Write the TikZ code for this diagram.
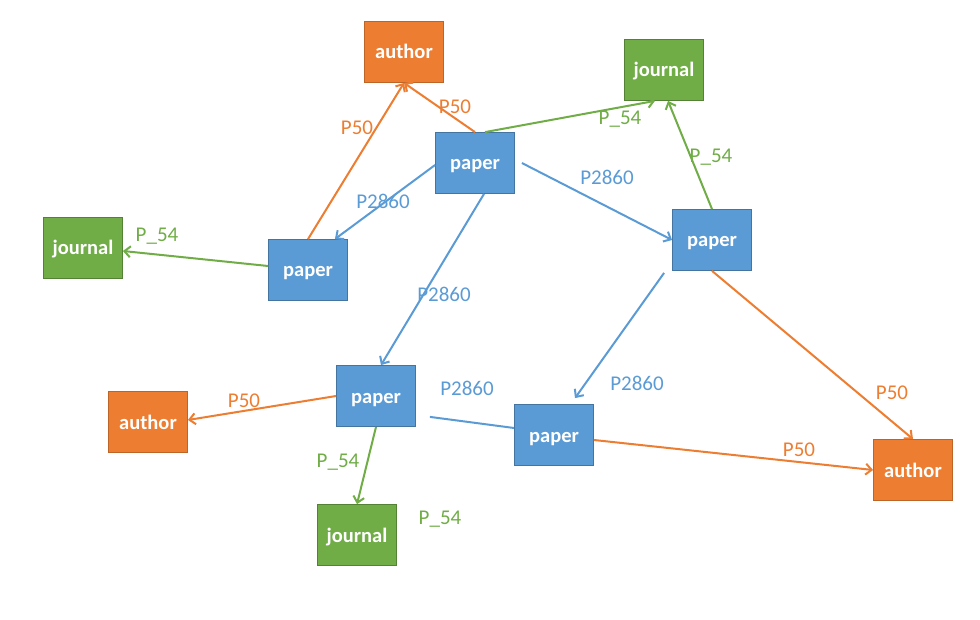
\documentclass[tikz,border=0pt]{standalone}
\usepackage{fontspec}
\setmainfont{Carlito}
\usetikzlibrary{arrows.meta}
\definecolor{paperblue}{HTML}{5B9BD5}
\definecolor{authororange}{HTML}{ED7D31}
\definecolor{journalgreen}{HTML}{70AD47}
\begin{document}
\begin{tikzpicture}
        [
          x=1pt, y=-1pt,
          box/.style={minimum width=79pt, minimum height=61pt, inner sep=0pt,
            text height=14pt, text depth=0pt,
            text=white, font=\fontsize{20.5}{22}\selectfont\bfseries, line width=0.8pt},
          paperbox/.style={box, fill=paperblue, draw=paperblue!75!black},
          authorbox/.style={box, fill=authororange, draw=authororange!80!black},
          journalbox/.style={box, fill=journalgreen, draw=journalgreen!75!black},
          rel/.style={line width=2pt, -{Straight Barb[length=6pt,width=11pt]}},
          lab/.style={font=\fontsize{21}{22}\selectfont, inner sep=0pt}
        ]
        \useasboundingbox (0,0) rectangle (980,620);
        % entities
        \node [paperbox] (paperC) at (475,163) {paper};
        \node [paperbox] (paperL) at (308,270) {paper};
        \node [paperbox] (paperR) at (712,240) {paper};
        \node [paperbox] (paperM) at (376,396) {paper};
        \node [paperbox] (paperB) at (554,435) {paper};
        \node [authorbox] (authorT) at (404,52) {author};
        \node [authorbox] (authorL) at (148,422) {author};
        \node [authorbox] (authorR) at (913,470) {author};
        \node [journalbox] (journalT) at (664,70) {journal};
        \node [journalbox] (journalL) at (83,248) {journal};
        \node [journalbox] (journalB) at (357,535) {journal};
        % P50 edges
        \draw [rel, authororange] (paperC.north) -- (authorT.south);
        \draw [rel, authororange] (paperL.north) -- (authorT.south);
        \draw [rel, authororange] (paperR.south) -- (authorR.north);
        \draw [rel, authororange] (paperM.west) -- ([yshift=2]authorL.east);
        \draw [rel, authororange] ([yshift=-5]paperB.east) -- (authorR.west);
        % P_54 edges
        \draw [rel, journalgreen] ([xshift=10]paperC.north) -- ([xshift=-9]journalT.south);
        \draw [rel, journalgreen] (paperR.north) -- ([xshift=4]journalT.south);
        \draw [rel, journalgreen] ([yshift=4]paperL.west) -- ([yshift=-3]journalL.east);
        \draw [rel, journalgreen] (paperM.south) -- (journalB.north);
        % P2860 edges
        \draw [rel, paperblue] ([yshift=-2]paperC.west) -- ([xshift=-13]paperL.north east);
        \draw [rel, paperblue] ([xshift=7]paperC.east) -- (paperR.west);
        \draw [rel, paperblue] ([xshift=9]paperC.south) -- ([xshift=5]paperM.north);
        \draw [rel, paperblue] ([xshift=-8,yshift=-2]paperR.south west) -- ([xshift=21,yshift=6]paperB.north);
        \draw [line width=2pt, paperblue] ([xshift=14,yshift=10]paperM.south east) -- ([yshift=7]paperB.west);
        % labels
        \node [lab, authororange] (lC) at (455,107) {P50};
        \node [lab, authororange] (lL) at (357,128) {P50};
        \node [lab, authororange] (lR) at (892,393) {P50};
        \node [lab, authororange] (lM) at (244,401) {P50};
        \node [lab, authororange] (lB) at (799,450) {P50};
        \node [lab, journalgreen] (jC) at (620,119) {P\_54};
        \node [lab, journalgreen] (jR) at (711,157) {P\_54};
        \node [lab, journalgreen] (jL) at (157,236) {P\_54};
        \node [lab, journalgreen] (jM) at (338,462) {P\_54};
        \node [lab, journalgreen] (jX) at (440,519) {P\_54};
        \node [lab, paperblue] (cL) at (383,201) {P2860};
        \node [lab, paperblue] (cR) at (607,177) {P2860};
        \node [lab, paperblue] (cM) at (444,294) {P2860};
        \node [lab, paperblue] (cB) at (637,383) {P2860};
        \node [lab, paperblue] (cX) at (467,388) {P2860};
\end{tikzpicture}
\end{document}
